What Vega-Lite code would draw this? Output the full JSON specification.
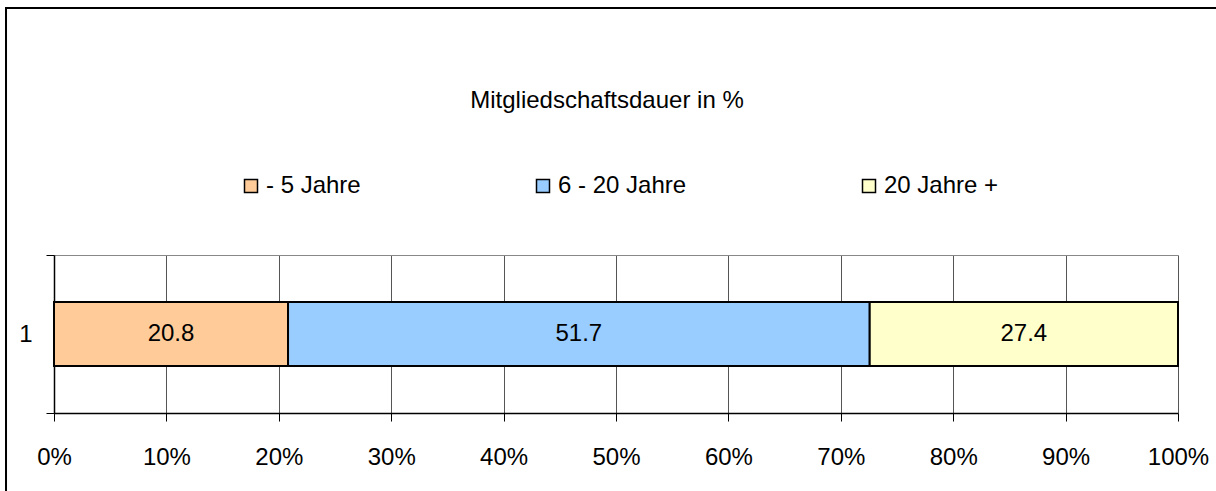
{
  "$schema": "https://vega.github.io/schema/vega-lite/v6.json",
  "width": 1124,
  "height": 158,
  "autosize": "none",
  "padding": {"left": 54, "top": 255, "right": 38, "bottom": 78},
  "background": "white",
  "config": {
    "view": {"stroke": null},
    "font": "Liberation Sans",
    "axis": {"labelFont": "Liberation Sans", "labelFontSize": 24, "labelColor": "#000"},
    "legend": {"labelFont": "Liberation Sans", "labelFontSize": 24, "labelColor": "#000"}
  },
  "title": {
    "text": "Mitgliedschaftsdauer in %",
    "fontSize": 24,
    "fontWeight": "normal",
    "font": "Liberation Sans",
    "color": "#000",
    "anchor": "middle",
    "frame": "group",
    "baseline": "alphabetic",
    "dx": -9,
    "offset": 0,
    "dy": 125
  },
  "data": {
    "values": [
      {"row": "1", "group": "- 5 Jahre", "value": 20.8, "k": 1},
      {"row": "1", "group": "6 - 20 Jahre", "value": 51.7, "k": 2},
      {"row": "1", "group": "20 Jahre +", "value": 27.4, "k": 3}
    ]
  },
  "layer": [
    {
      "mark": {"type": "rect", "clip": false, "fillOpacity": 0, "stroke": "#000", "strokeWidth": 2},
      "encoding": {
        "x": {"datum": -0.0427, "type": "quantitative", "scale": {"domain": [0, 1], "nice": false, "zero": true}},
        "x2": {"datum": 1.2},
        "y": {"datum": 2.563, "type": "quantitative", "scale": {"domain": [0, 1], "nice": false, "zero": false}, "axis": null},
        "y2": {"datum": -1}
      }
    },
    {
      "layer": [
        {
          "mark": {"type": "bar", "size": 64, "stroke": "#000", "strokeWidth": 2},
          "encoding": {
            "y": {
              "field": "row", "type": "nominal",
              "scale": {"paddingInner": 0, "paddingOuter": 0},
              "axis": {
                "title": null, "labelAngle": 0, "tickBand": "extent", "tickSize": 8,
                "tickColor": "#000", "domainColor": "#000", "domainWidth": 1.5,
                "labelPadding": 14, "grid": true, "gridColor": "#888", "gridWidth": 1
              }
            },
            "x": {
              "field": "value", "type": "quantitative", "stack": "normalize",
              "scale": {"domain": [0, 1], "nice": false},
              "axis": {
                "title": null, "format": ".0%", "values": [0, 0.1, 0.2, 0.3, 0.4, 0.5, 0.6, 0.7, 0.8, 0.9, 1],
                "tickSize": 8, "tickColor": "#000", "domainColor": "#000", "domainWidth": 1.5,
                "labelPadding": 24, "grid": true, "gridColor": "#555", "gridWidth": 1, "labelFlush": false
              }
            },
            "order": {"field": "k", "type": "quantitative"},
            "color": {
              "field": "group", "type": "nominal",
              "scale": {"domain": ["- 5 Jahre", "6 - 20 Jahre", "20 Jahre +"], "range": ["#FFCC99", "#99CCFF", "#FFFFCC"]},
              "legend": {
                "orient": "none", "legendX": 185, "legendY": -81, "direction": "horizontal",
                "title": null, "symbolType": "square", "symbolSize": 169,
                "symbolStrokeColor": "#000", "symbolStrokeWidth": 1.5,
                "columnPadding": 170, "labelOffset": 3
              }
            }
          }
        },
        {
          "mark": {"type": "text", "fontSize": 24, "font": "Liberation Sans", "color": "#000", "baseline": "middle", "align": "center"},
          "encoding": {
            "y": {"field": "row", "type": "nominal"},
            "x": {"field": "value", "type": "quantitative", "stack": "normalize", "bandPosition": 0.5},
            "order": {"field": "k", "type": "quantitative"},
            "detail": {"field": "group"},
            "text": {"field": "value", "type": "quantitative", "format": ".1f"}
          }
        }
      ]
    }
  ],
  "resolve": {"scale": {"y": "independent"}}
}
